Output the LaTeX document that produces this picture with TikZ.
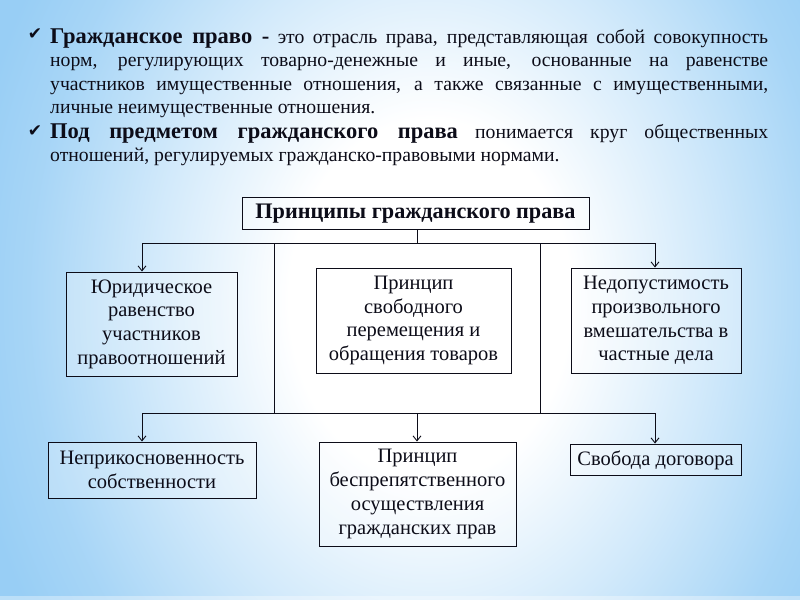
\documentclass[tikz,border=0pt]{standalone}
\usepackage{fontspec}
\setmainfont{Liberation Serif}
\newfontfamily\symfont{DejaVu Sans}
\usetikzlibrary{arrows.meta}
\definecolor{bgblue}{RGB}{152,206,245}
\definecolor{ink}{RGB}{12,12,24}
\pgfdeclareradialshading{glow}{\pgfpoint{0bp}{0bp}}{color(0bp)=(white); color(7.5bp)=(white); color(15bp)=(bgblue!45!white); color(21.25bp)=(bgblue!85!white); color(25bp)=(bgblue); color(50bp)=(bgblue)}
\begin{document}
\begin{tikzpicture}[x=1bp,y=-1bp,
  box/.style={draw=ink, line width=0.9bp, fill=white, fill opacity=0.25, text opacity=1,
    text=ink, align=center, inner sep=0pt, font=\fontsize{20.5bp}{23.7bp}\selectfont},
  conn/.style={line width=0.9bp, draw=ink},
  arr/.style={conn, -{Straight Barb[length=5bp,width=8bp]}},
  para/.style={anchor=base west, text width=718bp, inner sep=0pt, align=justify, text=ink,
    font=\fontsize{19.7bp}{23.5bp}\selectfont},
  tick/.style={text=ink, inner sep=0pt, font=\symfont\fontsize{17bp}{17bp}\selectfont}]
\path[use as bounding box] (0,0) rectangle (800,600);
\begin{scope}
\clip (0,0) rectangle (800,600);
\fill[bgblue] (0,0) rectangle (800,600);
\shade[shading=glow] (430,300) ellipse [x radius=470bp, y radius=600bp];
\fill[white, opacity=0.35] (0,596) rectangle (800,600);
\end{scope}

% bullets
\node[tick] (t1) at (35,34) {✔};
\node[tick] (t2) at (35,131) {✔};
\node[para] (p1) at (50,43.5) {{\fontsize{22.5bp}{23.5bp}\selectfont\bfseries Гражданское право -} это отрасль права, представляющая собой совокупность\linebreak норм, регулирующих товарно-денежные и иные, основанные на равенстве\linebreak участников имущественные отношения, а также связанные с имущественными,\linebreak личные неимущественные отношения.};
\node[para] (p2) at (50,138.5) {{\fontsize{22.5bp}{23.5bp}\selectfont\bfseries Под предметом гражданского права} понимается круг общественных\linebreak отношений, регулируемых гражданско-правовыми нормами.};

% boxes
\node[box, minimum width=347bp, minimum height=32bp, text height=15bp, text depth=4bp,
  font=\fontsize{22.2bp}{24bp}\selectfont\bfseries] (top) at (415.5,213) {Принципы гражданского права};
\node[box, minimum width=171bp, minimum height=104bp] (b1) at (151.5,324) {Юридическое\\равенство\\участников\\правоотношений};
\node[box, minimum width=195bp, minimum height=105bp] (b2) at (413.5,320.5) {Принцип\\свободного\\перемещения и\\обращения товаров};
\node[box, minimum width=170bp, minimum height=105bp] (b3) at (656,320.5) {Недопустимость\\произвольного\\вмешательства в\\частные дела};
\node[box, minimum width=208bp, minimum height=56bp] (b4) at (152,470) {Неприкосновенность\\собственности};
\node[box, minimum width=197bp, minimum height=104bp] (b5) at (417.5,494) {Принцип\\беспрепятственного\\осуществления\\гражданских прав};
\node[box, minimum width=171bp, minimum height=31bp, text height=15bp, text depth=2.5bp] (b6) at (655.5,459.5) {Свобода договора};

% connectors
\coordinate (h1) at (417,243);
\coordinate (h1l) at (142,243);
\coordinate (h1r) at (655,243);
\coordinate (v1) at (274,243);
\coordinate (v2) at (540,243);
\coordinate (h2) at (417,413);
\coordinate (h2l) at (142,413);
\coordinate (h2r) at (655,413);
\coordinate (w1) at (274,413);
\coordinate (w2) at (540,413);
\draw[conn] (top.south -| h1) -- (h1);
\draw[conn] (h1l) -- (h1r);
\draw[arr] (h1l) -- (h1l |- b1.north);
\draw[arr] (h1r) -- (h1r |- b3.north);
\draw[conn] (v1) -- (w1);
\draw[conn] (v2) -- (w2);
\draw[conn] (h2l) -- (h2r);
\draw[arr] (h2l) -- (h2l |- b4.north);
\draw[arr] (h2) -- (h2 |- b5.north);
\draw[arr] (h2r) -- (h2r |- b6.north);
\end{tikzpicture}
\end{document}
